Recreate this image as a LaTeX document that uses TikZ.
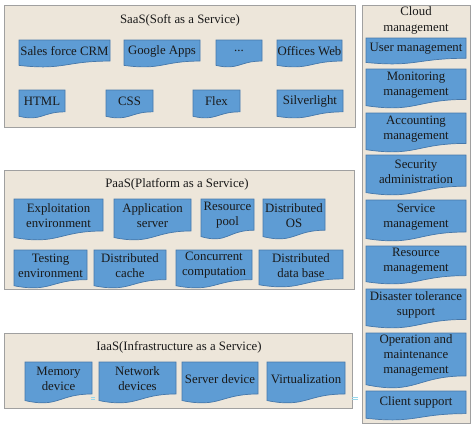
\documentclass[tikz,border=0pt]{standalone}
\usepackage{fontspec}
\setmainfont{Liberation Serif}
\definecolor{docblue}{RGB}{94,156,212}
\definecolor{docedge}{RGB}{70,120,170}
\definecolor{panelfill}{RGB}{237,230,218}
\definecolor{paneledge}{RGB}{160,160,160}
\definecolor{markcyan}{RGB}{150,215,235}
\tikzset{
  docfill/.style={fill=docblue,draw=docedge,line width=0.7pt},
  doctext/.style={align=center,inner sep=0pt,font=\fontsize{12.8}{15}\selectfont,text=black!90},
  panelbox/.style={fill=panelfill,draw=paneledge,line width=0.9pt},
  paneltitle/.style={align=center,inner sep=0pt,font=\fontsize{12.8}{15.5}\selectfont,text=black!90},
  tickmark/.style={draw=markcyan,line width=0.6pt}
}
\newcommand\docbox[6]{%
  \path[docfill] (#2,#3) -- (#4,#3) -- (#4,{#3+0.78*(#5-#3)})
    .. controls ({(#2+#4)/2},{#3+0.78*(#5-#3)}) and ({(#2+#4)/2},{#3+1.13*(#5-#3)}) .. (#2,{#3+0.94*(#5-#3)}) -- cycle;
  \node[doctext] (#1) at ({(#2+#4)/2},{#3+0.41*(#5-#3)}) {#6};
}
\begin{document}
\begin{tikzpicture}[x=1pt,y=-1pt]
\useasboundingbox (0,0) rectangle (474,426);
% panels
\draw[panelbox] (4,5) rectangle (355,127);
\node[paneltitle] (saastitle) at (180,20) {SaaS(Soft as a Service)};
\draw[panelbox] (4,170) rectangle (354,289);
\node[paneltitle] (paastitle) at (177,184) {PaaS(Platform as a Service)};
\draw[panelbox] (4,333) rectangle (352,408);
\node[paneltitle] (iaastitle) at (179,347) {IaaS(Infrastructure as a Service)};
\draw[panelbox] (362,5) rectangle (470,423);
\node[paneltitle] (cloudtitle) at (416,20.5) {Cloud\\management};
% SaaS
\docbox{crm}{19}{40}{110}{67}{Sales force CRM}
\docbox{google}{124}{40}{200}{67}{Google Apps}
\docbox{dots}{216}{40}{262}{67}{...}
\docbox{offweb}{277}{40}{342}{67}{Offices Web}
\docbox{html}{19}{90}{65}{118}{HTML}
\docbox{css}{106}{90}{153}{118}{CSS}
\docbox{flex}{193}{90}{240}{118}{Flex}
\docbox{silver}{277}{90}{343}{118}{Silverlight}
% PaaS
\docbox{exploit}{14}{199}{103}{240}{Exploitation\\environment}
\docbox{appserv}{114}{199}{191}{240}{Application\\server}
\docbox{respool}{201}{199}{254}{239}{Resource\\pool}
\docbox{distos}{263}{199}{325}{239}{Distributed\\OS}
\docbox{testing}{14}{250}{87}{288}{Testing\\environment}
\docbox{dcache}{94}{250}{166}{288}{Distributed\\cache}
\docbox{concur}{176}{250}{252}{288}{Concurrent\\computation}
\docbox{ddb}{259}{250}{343}{287}{Distributed\\data base}
% IaaS
\docbox{memory}{25}{362}{92}{403}{Memory\\device}
\docbox{network}{99}{362}{176}{403}{Network\\devices}
\docbox{server}{182}{362}{258}{403}{Server device}
\docbox{virt}{267}{362}{345}{403}{Virtualization}
% Cloud management
\docbox{user}{366}{38}{466}{64}{User management}
\docbox{monitor}{366}{69}{466}{108}{Monitoring\\management}
\docbox{account}{366}{113}{466}{152}{Accounting\\management}
\docbox{security}{366}{155}{466}{195}{Security\\administration}
\docbox{service}{366}{200}{466}{241}{Service\\management}
\docbox{resource}{366}{246}{466}{284}{Resource\\management}
\docbox{disaster}{366}{289}{466}{328}{Disaster tolerance\\support}
\docbox{operation}{366}{333}{466}{388}{Operation and\\maintenance\\management}
\docbox{client}{366}{391}{466}{420}{Client support}
% small cyan marks
\coordinate (m1a) at (91,397.3); \coordinate (m1b) at (95,397.3);
\coordinate (m1c) at (91,399.3); \coordinate (m1d) at (95,399.3);
\draw[tickmark] (m1a) -- (m1b); \draw[tickmark] (m1c) -- (m1d);
\coordinate (m2a) at (352,397.3); \coordinate (m2b) at (358,397.3);
\coordinate (m2c) at (352,399.3); \coordinate (m2d) at (358,399.3);
\draw[tickmark] (m2a) -- (m2b); \draw[tickmark] (m2c) -- (m2d);
\end{tikzpicture}
\end{document}
